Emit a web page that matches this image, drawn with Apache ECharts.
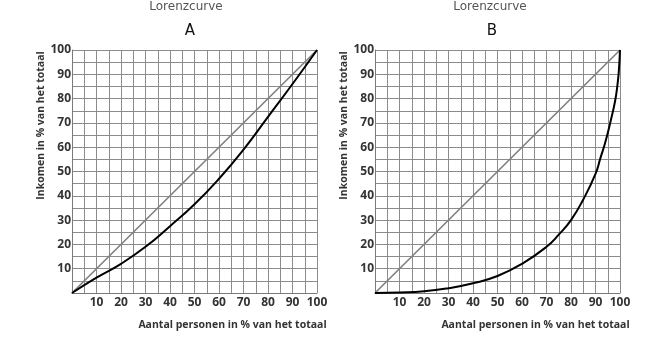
<!DOCTYPE html>
<html>
<head>
<meta charset="utf-8">
<script src="https://cdn.jsdelivr.net/npm/echarts@6/dist/echarts.min.js"></script>
<style>
html,body{margin:0;padding:0;background:#fff;}
#chart{width:651px;height:338px;}
</style>
</head>
<body>
<div id="chart"></div>
<script>
// ---- data ----
const chartTitle = 'Lorenzcurve';
const panelNames = ['A', 'B'];
const xAxisName = 'Aantal personen in % van het totaal';
const yAxisName = 'Inkomen in % van het totaal';
const tickLabels = ['10','20','30','40','50','60','70','80','90','100'];
const equalityX = [0, 100];
const equalityY = [0, 100];
const curveAX = [0, 10, 20, 30, 40, 50, 60, 70, 80, 90, 100];
const curveAY = [0, 6.3, 12, 19, 27.5, 36.5, 47, 59, 72.5, 86, 100];
const curveBX = [0, 10, 20, 30, 40, 50, 60, 70, 75, 80, 85, 90, 92, 94, 96, 98, 99, 99.5, 100];
const curveBY = [0, 0.2, 0.7, 2, 4, 7, 12, 19, 24, 30, 38.5, 49, 55.5, 62, 70, 79, 86, 91, 100];

const pairs = (xs, ys) => xs.map((x, i) => [x, ys[i]]);

const FONT = 'Open Sans';
const gridColor = '#8c8c8c';

function makeX(gi) {
  return {
    gridIndex: gi, type: 'value', min: 0, max: 100, interval: 5,
    name: xAxisName, nameLocation: 'middle', nameGap: 27,
    nameTextStyle: {fontFamily: FONT, fontWeight: 'bold', fontSize: 10.5, color: '#333', padding: [0, 0, 0, 76]},
    axisLine: {show: true, onZero: false, lineStyle: {color: '#7a7a7a', width: 1}},
    axisTick: {show: false},
    axisLabel: {
      margin: 4, fontFamily: FONT, fontWeight: 'bold', fontSize: 12, color: '#333',
      formatter: v => tickLabels.includes(String(v)) ? String(v) : ''
    },
    splitLine: {show: true, lineStyle: {color: gridColor, width: 1}}
  };
}
function makeY(gi) {
  return {
    gridIndex: gi, type: 'value', min: 0, max: 100, interval: 5,
    name: yAxisName, nameLocation: 'middle', nameGap: 25, nameRotate: 90,
    nameTextStyle: {fontFamily: FONT, fontWeight: 'bold', fontSize: 10.5, color: '#333', padding: [0, 0, 0, 92]},
    axisLine: {show: true, onZero: false, lineStyle: {color: '#7a7a7a', width: 1}},
    axisTick: {show: false},
    axisLabel: {
      margin: 1, fontFamily: FONT, fontWeight: 'bold', fontSize: 12, color: '#333',
      formatter: v => tickLabels.includes(String(v)) ? String(v) : ''
    },
    splitLine: {show: true, lineStyle: {color: gridColor, width: 1}}
  };
}

const chart = echarts.init(document.getElementById('chart'), null, {renderer: 'canvas'});
chart.setOption({
  backgroundColor: '#fff',
  animation: false,
  title: [
    {text: chartTitle, left: 181, top: -4, textAlign: 'center',
     textStyle: {fontFamily: 'DejaVu Sans', fontWeight: 'normal', fontSize: 12, color: '#555'}},
    {text: panelNames[0], left: 185, top: 19, textAlign: 'center',
     textStyle: {fontFamily: 'DejaVu Sans', fontWeight: 'normal', fontSize: 15, color: '#111'}},
    {text: chartTitle, left: 485, top: -4, textAlign: 'center',
     textStyle: {fontFamily: 'DejaVu Sans', fontWeight: 'normal', fontSize: 12, color: '#555'}},
    {text: panelNames[1], left: 487, top: 19, textAlign: 'center',
     textStyle: {fontFamily: 'DejaVu Sans', fontWeight: 'normal', fontSize: 15, color: '#111'}}
  ],
  grid: [
    {left: 72, top: 50, width: 245, height: 243, containLabel: false},
    {left: 375, top: 50, width: 245, height: 243, containLabel: false}
  ],
  xAxis: [makeX(0), makeX(1)],
  yAxis: [makeY(0), makeY(1)],
  series: [
    {type: 'line', xAxisIndex: 0, yAxisIndex: 0, data: pairs(equalityX, equalityY), symbol: 'none',
     lineStyle: {color: '#7f7f7f', width: 1.6}, z: 3},
    {type: 'line', xAxisIndex: 0, yAxisIndex: 0, data: pairs(curveAX, curveAY), symbol: 'none',
     smooth: 0.5, lineStyle: {color: '#000', width: 2}, z: 4},
    {type: 'line', xAxisIndex: 1, yAxisIndex: 1, data: pairs(equalityX, equalityY), symbol: 'none',
     lineStyle: {color: '#7f7f7f', width: 1.6}, z: 3},
    {type: 'line', xAxisIndex: 1, yAxisIndex: 1, data: pairs(curveBX, curveBY), symbol: 'none',
     smooth: 0.5, lineStyle: {color: '#000', width: 2}, z: 4}
  ]
});
</script>
</body>
</html>
